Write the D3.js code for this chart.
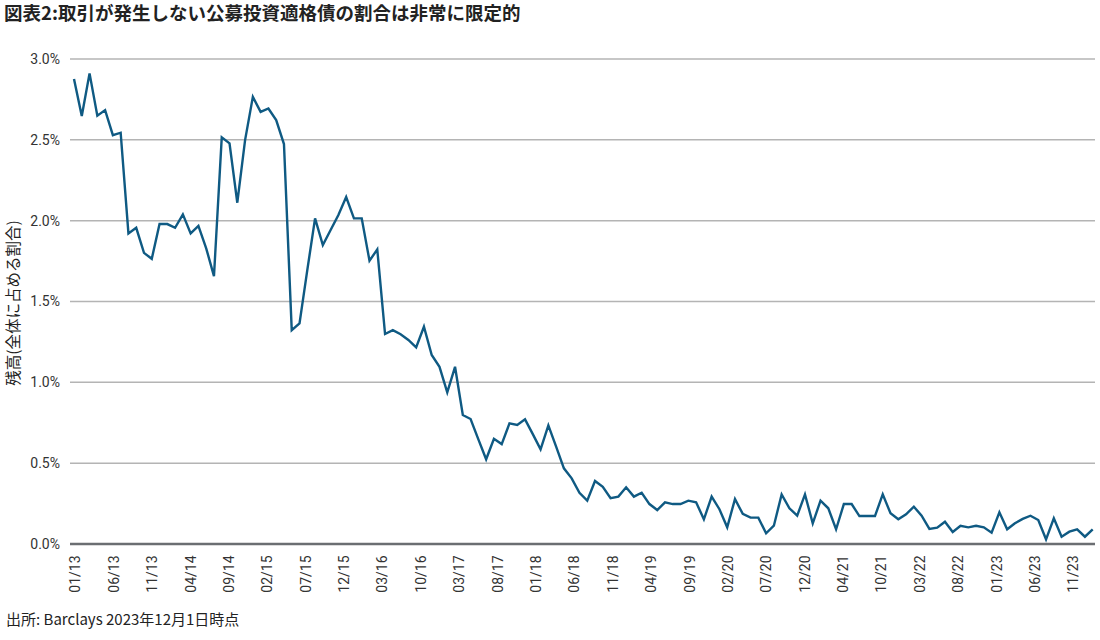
<!DOCTYPE html>
<html>
<head>
<meta charset="utf-8">
<script src="https://cdn.jsdelivr.net/npm/d3@7"></script>
<style>
  body { margin: 0; background: #fff; }
  svg text { fill: #222; }
</style>
</head>
<body>
<div id="chart"></div>
<script>
// monthly share of bonds with no trades (%), 01/13 .. 12/23
var shareValues = [
  2.876, 2.647, 2.911, 2.649, 2.684, 2.529, 2.544, 1.921, 1.956, 1.801,
  1.764, 1.979, 1.979, 1.956, 2.039, 1.921, 1.968, 1.829, 1.657, 2.515,
  2.478, 2.111, 2.498, 2.766, 2.673, 2.694, 2.622, 2.474, 1.323, 1.365,
  1.694, 2.014, 1.849, 1.942, 2.035, 2.146, 2.014, 2.014, 1.752, 1.822,
  1.299, 1.323, 1.297, 1.262, 1.216, 1.344, 1.169, 1.096, 0.938, 1.096,
  0.798, 0.773, 0.647, 0.524, 0.651, 0.618, 0.746, 0.736, 0.771, 0.680,
  0.586, 0.734, 0.602, 0.468, 0.406, 0.317, 0.268, 0.390, 0.354, 0.283,
  0.293, 0.351, 0.293, 0.317, 0.247, 0.210, 0.258, 0.247, 0.247, 0.268,
  0.258, 0.153, 0.293, 0.215, 0.103, 0.278, 0.186, 0.163, 0.163, 0.066,
  0.113, 0.307, 0.221, 0.175, 0.307, 0.128, 0.268, 0.221, 0.091, 0.247,
  0.247, 0.173, 0.173, 0.173, 0.307, 0.190, 0.153, 0.184, 0.231, 0.175,
  0.093, 0.101, 0.138, 0.074, 0.113, 0.103, 0.113, 0.103, 0.070, 0.196,
  0.091, 0.128, 0.155, 0.175, 0.148, 0.029, 0.159, 0.045, 0.076, 0.091,
  0.045, 0.091
];

// category labels shown along the bottom
var xTickLabels = ["01/13", "06/13", "11/13", "04/14", "09/14", "02/15", "07/15", "12/15",
  "03/16", "10/16", "03/17", "08/17", "01/18", "06/18", "11/18", "04/19", "09/19",
  "02/20", "07/20", "12/20", "04/21", "10/21", "03/22", "08/22", "01/23", "06/23", "11/23"];

var yTicks = [0, 0.5, 1.0, 1.5, 2.0, 2.5, 3.0];

var titleText = "図表2:取引が発生しない公募投資適格債の割合は非常に限定的";
var yLabelText = "残高(全体に占める割合)";
var sourceText = "出所: Barclays 2023年12月1日時点";

var width = 1100, height = 640;
var cjk = "'Noto Sans CJK JP', 'Noto Sans', sans-serif";
var narrow = "'Liberation Sans Narrow', 'Roboto', 'Noto Sans CJK JP', sans-serif";

var svg = d3.select("#chart").append("svg")
  .attr("width", width)
  .attr("height", height);

// scales
var x = d3.scaleLinear()
  .domain([0, shareValues.length - 1])
  .range([74, 1092.7]);

var xLabels = d3.scalePoint()
  .domain(xTickLabels)
  .range([75, 1073]);

var y = d3.scaleLinear()
  .domain([0, 3])
  .range([544, 59]);

// gridlines
svg.append("g")
  .selectAll("line")
  .data(yTicks)
  .enter().append("line")
  .attr("x1", 70)
  .attr("x2", 1095)
  .attr("y1", function(d) { return y(d); })
  .attr("y2", function(d) { return y(d); })
  .attr("stroke", function(d) { return d === 0 ? "#6b6e72" : "#b4b4b4"; })
  .attr("stroke-width", function(d) { return d === 0 ? 2.5 : 1.5; });

// y tick labels
svg.append("g")
  .selectAll("text")
  .data(yTicks)
  .enter().append("text")
  .attr("x", 60)
  .attr("y", function(d) { return y(d); })
  .attr("dy", "0.35em")
  .attr("text-anchor", "end")
  .style("font-family", narrow)
  .style("font-size", "14px")
  .style("fill", "#333")
  .text(function(d) { return d.toFixed(1) + "%"; });

// x axis labels, rotated
var xAxis = d3.axisBottom(xLabels).tickSize(0).tickPadding(0);
var gx = svg.append("g")
  .attr("transform", "translate(0,554)")
  .call(xAxis);
gx.select(".domain").remove();
gx.selectAll("text")
  .attr("transform", "rotate(-90)")
  .attr("x", 0)
  .attr("y", 0)
  .attr("dx", "-0.1em")
  .attr("dy", "0.35em")
  .attr("text-anchor", "end")
  .style("font-family", narrow)
  .style("font-size", "14px")
  .style("fill", "#333");

// the series
var line = d3.line()
  .x(function(d, i) { return x(i); })
  .y(function(d) { return y(d); });

svg.append("path")
  .datum(shareValues)
  .attr("fill", "none")
  .attr("stroke", "#0f5a83")
  .attr("stroke-width", 2.4)
  .attr("stroke-linejoin", "miter")
  .attr("d", line);

// titles
svg.append("text")
  .attr("x", 4)
  .attr("y", 20)
  .style("font-family", cjk)
  .style("font-size", "18.5px")
  .style("font-weight", "bold")
  .text(titleText);

svg.append("text")
  .attr("transform", "translate(19,303) rotate(-90)")
  .attr("text-anchor", "middle")
  .style("font-family", cjk)
  .style("font-size", "15.5px")
  .text(yLabelText);

svg.append("text")
  .attr("x", 6)
  .attr("y", 625)
  .style("font-family", cjk)
  .style("font-size", "15px")
  .text(sourceText);
</script>
</body>
</html>
